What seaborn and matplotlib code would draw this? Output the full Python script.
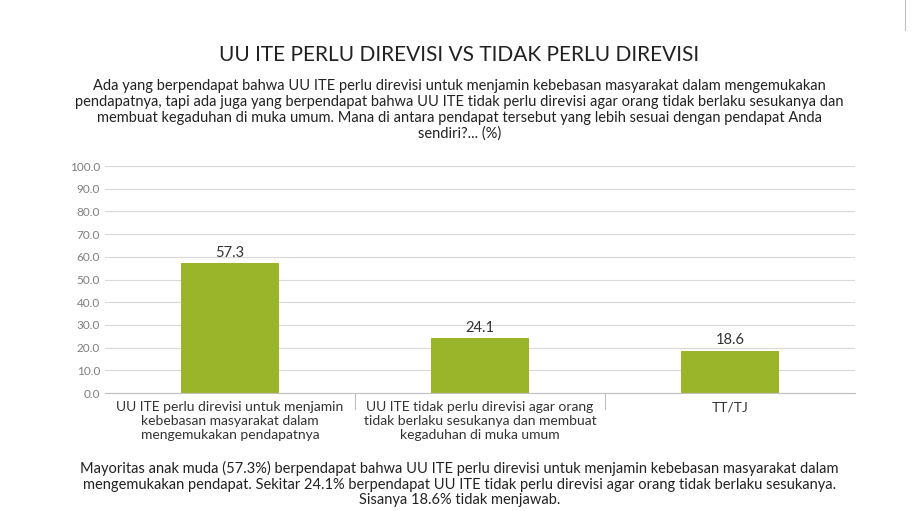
import matplotlib
matplotlib.use("Agg")
import matplotlib.pyplot as plt
import seaborn as sns
import pandas as pd

categories = ["UU ITE perlu direvisi untuk menjamin\nkebebasan masyarakat dalam\nmengemukakan pendapatnya",
              "UU ITE tidak perlu direvisi agar orang\ntidak berlaku sesukanya dan membuat\nkegaduhan di muka umum",
              "TT/TJ"]
values = [57.3, 24.1, 18.6]
yticks = [0, 10, 20, 30, 40, 50, 60, 70, 80, 90, 100]

plt.rcParams["font.family"] = "Lato"
fig = plt.figure(figsize=(9.19, 5.11), dpi=100)
ax = fig.add_axes([105/919, 1-393/511, 750/919, 227/511])
df = pd.DataFrame({"cat": categories, "val": values})
sns.barplot(data=df, x="cat", y="val", color="#9BB52A", width=0.39, ax=ax, saturation=1)
for i, v in enumerate(values):
    ax.text(i, v + 1.5, f"{v:.1f}", ha="center", va="bottom", fontsize=10.5, color="#333333")
ax.set_ylim(0, 100)
ax.set_xlim(-0.5, 2.5)
ax.set_yticks(yticks)
ax.set_yticklabels([f"{t:.1f}" for t in yticks], fontsize=8.5, color="#7f7f7f")
ax.yaxis.grid(True, color="#d9d9d9", linewidth=0.8)
ax.set_axisbelow(True)
for s in ["top", "right", "left"]:
    ax.spines[s].set_visible(False)
ax.spines["bottom"].set_color("#bfbfbf")
ax.tick_params(axis="y", length=0)
ax.set_xticks([0, 1, 2])
ax.set_xticklabels(categories, fontsize=10, color="#333333")
ax.tick_params(axis="x", length=0, pad=6)
for xb in [0.5, 1.5]:
    ax.plot([xb, xb], [0, -7], color="#bfbfbf", linewidth=0.8, clip_on=False)
ax.set_xlabel(""); ax.set_ylabel("")

fig.text(0.5, 1-55/511, "UU ITE PERLU DIREVISI VS TIDAK PERLU DIREVISI", ha="center", va="center",
         fontsize=15, color="#222222")
fig.text(0.5, 1-110/511,
         "Ada yang berpendapat bahwa UU ITE perlu direvisi untuk menjamin kebebasan masyarakat dalam mengemukakan\n"
         "pendapatnya, tapi ada juga yang berpendapat bahwa UU ITE tidak perlu direvisi agar orang tidak berlaku sesukanya dan\n"
         "membuat kegaduhan di muka umum. Mana di antara pendapat tersebut yang lebih sesuai dengan pendapat Anda\n"
         "sendiri?... (%)", ha="center", va="center", fontsize=10.5, color="#222222", linespacing=1.15)
fig.text(0.5, 1-484/511,
         "Mayoritas anak muda (57.3%) berpendapat bahwa UU ITE perlu direvisi untuk menjamin kebebasan masyarakat dalam\n"
         "mengemukakan pendapat. Sekitar 24.1% berpendapat UU ITE tidak perlu direvisi agar orang tidak berlaku sesukanya.\n"
         "Sisanya 18.6% tidak menjawab.", ha="center", va="center", fontsize=10.5, color="#222222", linespacing=1.15)
fig.add_artist(plt.Line2D([905/919, 905/919], [1, 1-30/511], color="#bfbfbf", linewidth=0.8))
fig.savefig("out.png", dpi=100)
